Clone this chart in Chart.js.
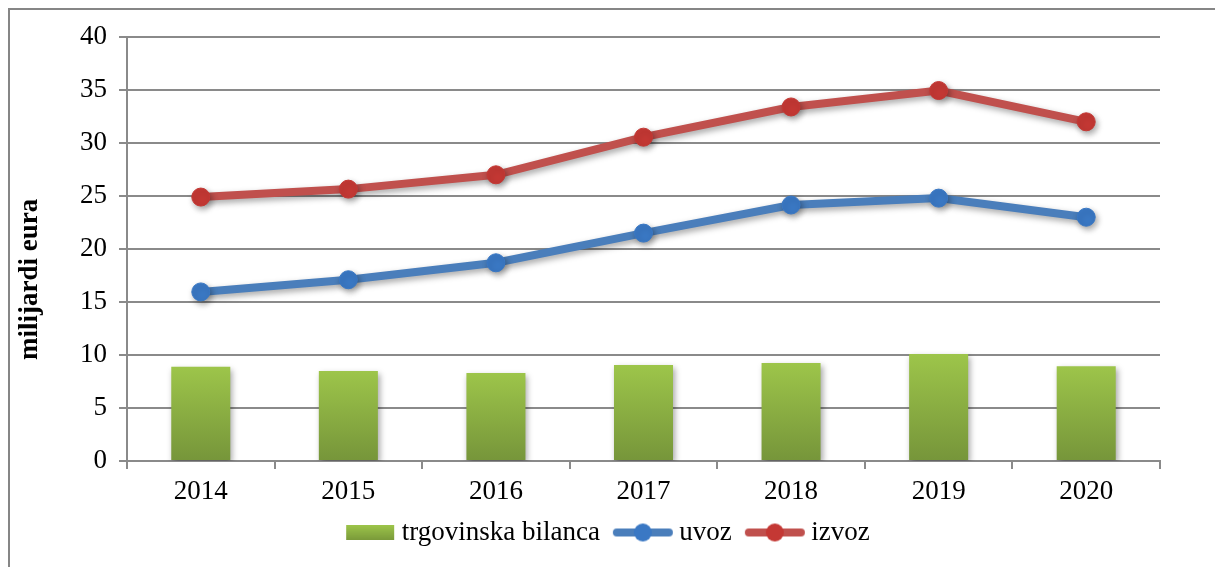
<!DOCTYPE html>
<html>
<head>
<meta charset="utf-8">
<script src="https://cdn.jsdelivr.net/npm/chart.js@4/dist/chart.umd.min.js"></script>
<style>
  html, body { margin: 0; padding: 0; background: #fff; }
  #wrap { position: relative; width: 1215px; height: 567px; overflow: hidden; }
  #frame { position: absolute; left: 8px; top: 8px; width: 1300px; height: 700px;
           border-top: 2px solid #868686; border-left: 2px solid #868686; }
  #chart { position: absolute; left: 0; top: 0; }
</style>
</head>
<body>
<div id="wrap">
  <div id="frame"></div>
  <canvas id="chart" width="1215" height="567"></canvas>
</div>
<script>
// podaci (milijardi eura)
var years = ["2014", "2015", "2016", "2017", "2018", "2019", "2020"];
var bilanca = [8.9, 8.5, 8.3, 9.05, 9.25, 10.1, 8.95];
var uvoz = [15.95, 17.1, 18.7, 21.5, 24.15, 24.8, 23.0];
var izvoz = [24.9, 25.65, 27.0, 30.55, 33.4, 34.95, 32.0];
var yTicks = [0, 5, 10, 15, 20, 25, 30, 35, 40];

var FONT = "'Liberation Serif', 'Times New Roman', serif";
var GRID = '#8a8a8a';

// ikone za legendu
function lineIcon(lineColor, dotColor) {
    var c = document.createElement('canvas');
    c.width = 64; c.height = 22;
    var g = c.getContext('2d');
    g.strokeStyle = lineColor;
    g.lineWidth = 8;
    g.lineCap = 'round';
    g.beginPath(); g.moveTo(6, 11); g.lineTo(58, 11); g.stroke();
    g.fillStyle = dotColor;
    g.beginPath(); g.arc(32, 11, 9, 0, Math.PI * 2); g.fill();
    return c;
}
function barIcon() {
    var c = document.createElement('canvas');
    c.width = 70; c.height = 15;
    var g = c.getContext('2d');
    var gr = g.createLinearGradient(0, 0, 0, 15);
    gr.addColorStop(0, '#9dc54a');
    gr.addColorStop(1, '#7a9a3a');
    g.fillStyle = gr;
    g.fillRect(16, 0, 48, 15);
    return c;
}
var icons = [barIcon(), lineIcon('#4a7ebb', '#3a78c4'), lineIcon('#c0504d', '#c43834')];

function barGradient(ctx) {
    var chart = ctx.chart;
    if (!chart.chartArea || ctx.raw === undefined) return '#8db446';
    var y = chart.scales.y;
    var top = y.getPixelForValue(ctx.raw);
    var bottom = y.getPixelForValue(0);
    var gr = chart.ctx.createLinearGradient(0, top, 0, bottom);
    gr.addColorStop(0, '#9dc54a');
    gr.addColorStop(1, '#76953a');
    return gr;
}

var shadowPlugin = {
    id: 'shadow',
    beforeDatasetDraw: function (chart) {
        var c = chart.ctx;
        c.save();
        c.shadowColor = 'rgba(0,0,0,0.35)';
        c.shadowBlur = 6;
        c.shadowOffsetX = 2;
        c.shadowOffsetY = 3;
    },
    afterDatasetDraw: function (chart) {
        chart.ctx.restore();
    }
};

// legenda je u originalu malo pomaknuta udesno i gore
var legendShift = {
    id: 'legendShift',
    afterLayout: function (chart) {
        var lg = chart.legend;
        lg.left += 26;
        lg.right += 26;
        lg.top -= 10;
        lg.bottom -= 10;
    }
};

var config = {
    type: 'bar',
    data: {
        labels: years,
        datasets: [{
            type: 'bar',
            label: 'trgovinska bilanca',
            data: bilanca,
            backgroundColor: barGradient,
            barPercentage: 0.4,
            categoryPercentage: 1.0
        }, {
            type: 'line',
            label: 'uvoz',
            data: uvoz,
            borderColor: '#4a7ebb',
            borderWidth: 8,
            pointRadius: 9,
            pointBackgroundColor: '#3a78c4',
            pointBorderColor: '#3a78c4',
            pointBorderWidth: 1,
            tension: 0
        }, {
            type: 'line',
            label: 'izvoz',
            data: izvoz,
            borderColor: '#c0504d',
            borderWidth: 8,
            pointRadius: 9,
            pointBackgroundColor: '#c43834',
            pointBorderColor: '#c43834',
            pointBorderWidth: 1,
            tension: 0
        }]
    },
    options: {
        responsive: false,
        animation: false,
        layout: { padding: { left: 0, right: 55, top: 37, bottom: 1 } },
        scales: {
            x: {
                offset: true,
                grid: { offset: true, drawOnChartArea: false, drawTicks: true, tickLength: 8, color: GRID, lineWidth: 2 },
                border: { color: GRID, width: 2 },
                ticks: { color: '#000', font: { family: FONT, size: 27 }, padding: 7 },
                afterFit: function (s) { s.height = 48; }
            },
            y: {
                min: 0,
                max: 40,
                afterBuildTicks: function (s) { s.ticks = yTicks.map(function (v) { return { value: v }; }); },
                grid: { color: GRID, lineWidth: 2, tickLength: 8 },
                border: { color: GRID, width: 2 },
                ticks: { color: '#000', font: { family: FONT, size: 27 }, padding: 12 },
                title: {
                    display: true,
                    text: 'milijardi eura         ',
                    color: '#000',
                    font: { family: FONT, size: 27, weight: 'bold' },
                    padding: { top: 14, bottom: 6 }
                },
                afterFit: function (s) { s.width = 127; }
            }
        },
        plugins: {
            tooltip: { enabled: false },
            legend: {
                position: 'bottom',
                labels: {
                    color: '#000',
                    font: { family: FONT, size: 27 },
                    usePointStyle: true,
                    pointStyleWidth: 46,
                    padding: 20,
                    generateLabels: function (chart) {
                        return chart.data.datasets.map(function (ds, i) {
                            return { text: ds.label, pointStyle: icons[i], datasetIndex: i, fontColor: '#000', hidden: false, lineWidth: 0 };
                        });
                    }
                }
            }
        }
    },
    plugins: [shadowPlugin, legendShift]
};

var myChart = new Chart(document.getElementById('chart'), config);
</script>
</body>
</html>
